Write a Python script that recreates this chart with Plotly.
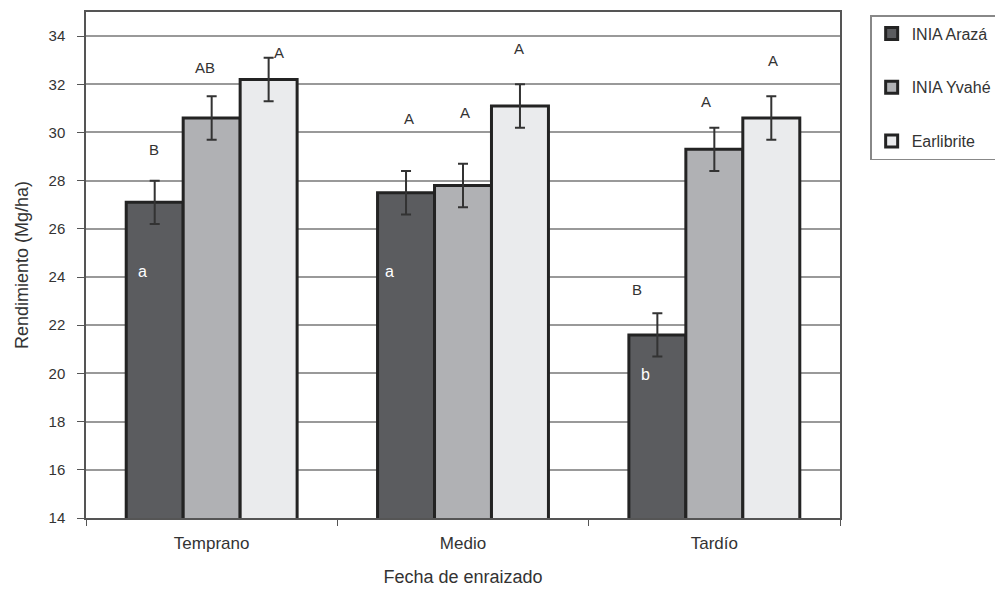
import plotly.graph_objects as go

categories = ["Temprano", "Medio", "Tardío"]
series_names = ["INIA Arazá", "INIA Yvahé", "Earlibrite"]
arraza = [27.1, 27.5, 21.6]
yvahe = [30.6, 27.8, 29.3]
earlibrite = [32.2, 31.1, 30.6]
err_arraza = [0.9, 0.9, 0.9]
err_yvahe = [0.9, 0.9, 0.9]
err_earlibrite = [0.9, 0.9, 0.9]

# letters above bars (upper case) per series per category
upper_letters = [["B", "A", "B"], ["AB", "A", "A"], ["A", "A", "A"]]
upper_y = [[29.3, 30.6, 23.5], [32.7, 30.85, 31.3], [33.3, 33.5, 33.0]]
upper_shift = [[-1, 3, -20], [-7, 2, -8], [10, -1, 2]]
# letters inside the INIA Arazá bars
lower_letters = ["a", "a", "b"]
lower_y = [24.25, 24.25, 19.95]
lower_shift = [-12, -17, -12]

colors = ["#5b5c5f", "#b0b1b4", "#eaebed"]
values = [arraza, yvahe, earlibrite]
errs = [err_arraza, err_yvahe, err_earlibrite]

FONT = "Liberation Sans, Arial, sans-serif"

fig = go.Figure()
for i in range(3):
    fig.add_trace(go.Bar(
        x=categories, y=values[i], name=series_names[i],
        marker=dict(color=colors[i], line=dict(color="#232323", width=3)),
        error_y=dict(type="data", array=errs[i], color="#333333", thickness=2, width=5),
        legendgroup=series_names[i],
    ))

BAR_PX = 57
for i in range(3):
    for j, c in enumerate(categories):
        fig.add_annotation(x=c, y=upper_y[i][j], text=upper_letters[i][j], showarrow=False,
                           xref="x", yref="y", xshift=(i - 1) * BAR_PX + upper_shift[i][j],
                           font=dict(family=FONT, size=15, color="#333333"))
for j, c in enumerate(categories):
    fig.add_annotation(x=c, y=lower_y[j], text=lower_letters[j], showarrow=False,
                       xref="x", yref="y", xshift=-BAR_PX + lower_shift[j],
                       font=dict(family=FONT, size=16, color="#ffffff"))

fig.update_layout(
    width=995, height=585,
    margin=dict(l=78, r=163, t=2, b=75),
    paper_bgcolor="white", plot_bgcolor="white",
    barmode="group", bargap=0.32, bargroupgap=0,
    font=dict(family=FONT, size=16, color="#333333"),
    showlegend=True,
    legend=dict(x=1.04, y=0.994, xanchor="left", yanchor="top",
                bordercolor="#888888", borderwidth=1.5, bgcolor="white",
                font=dict(family=FONT, size=16, color="#333333"),
                tracegroupgap=30, entrywidth=130),
    xaxis=dict(title=dict(text="Fecha de enraizado", font=dict(size=18), standoff=18),
               showline=True, linecolor="#555555", linewidth=1.5, mirror=True,
               ticks="outside", tickson="boundaries", ticklen=6, tickcolor="#555555",
               ticklabelstandoff=9, tickfont=dict(size=17)),
    yaxis=dict(title=dict(text="Rendimiento (Mg/ha)", font=dict(size=18), standoff=15),
               range=[14, 35], dtick=2, tick0=14,
               showgrid=True, gridcolor="#999999", gridwidth=1.5,
               showline=True, linecolor="#555555", linewidth=1.5, mirror=True,
               ticks="outside", ticklen=7, tickcolor="#555555",
               ticklabelstandoff=9, tickfont=dict(size=15)),
)

fig.write_html("out.html")
